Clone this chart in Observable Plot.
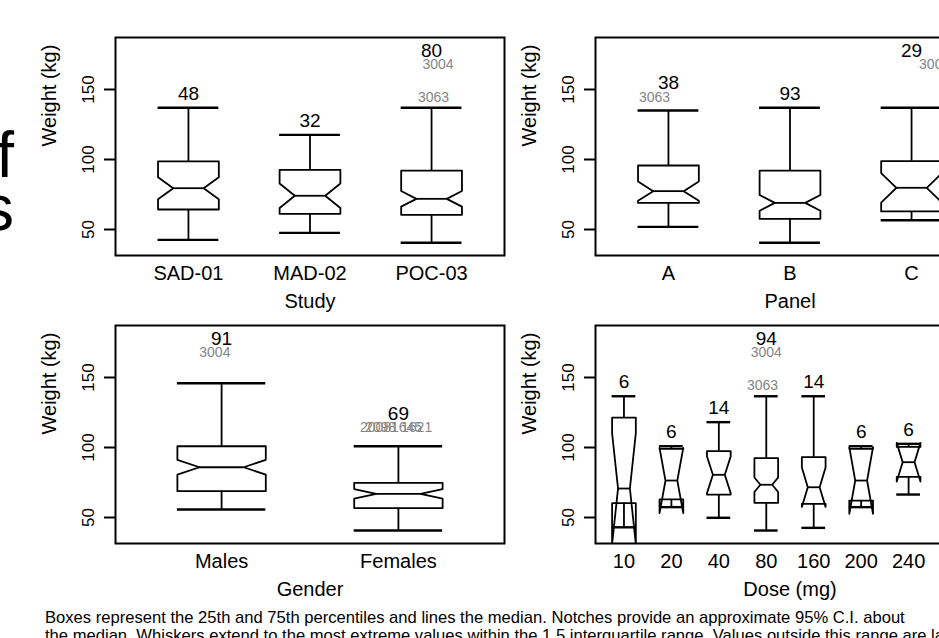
<!DOCTYPE html>
<html><head><meta charset="utf-8">
<script src="https://cdn.jsdelivr.net/npm/d3@7"></script>
<script src="https://cdn.jsdelivr.net/npm/@observablehq/plot@0.6"></script>
<style>
html,body{margin:0;padding:0;width:939px;height:638px;overflow:hidden;background:#fff;font-family:"Liberation Sans",Arial,sans-serif;color:#000;}
.panel{position:absolute;width:520px;height:320px;}
#caption{position:absolute;left:45px;top:609px;font-size:16.6px;line-height:18px;white-space:nowrap;}
#title{position:absolute;left:0;top:0;font-family:"Liberation Sans",Arial,sans-serif;}
</style></head><body>
<svg id="title" width="60" height="300">
<text x="14" y="177" text-anchor="end" font-size="64">Distribution of</text>
<text x="14" y="230" text-anchor="end" font-size="64">Weights</text>
</svg>
<div id="p1" class="panel" style="left:0;top:0"></div>
<div id="p2" class="panel" style="left:480px;top:0"></div>
<div id="p3" class="panel" style="left:0;top:288px"></div>
<div id="p4" class="panel" style="left:480px;top:288px"></div>
<div id="caption">Boxes represent the 25th and 75th percentiles and lines the median. Notches provide an approximate 95% C.I. about<br>the median. Whiskers extend to the most extreme values within the 1.5 interquartile range. Values outside this range are labelled.</div>
<script>
// ---- Study panel ----
const studyCats = ["SAD-01", "MAD-02", "POC-03"];
const studyN    = [48, 32, 80];
const studyLo   = [42.6, 47.6, 40.5];
const studyQ1   = [64.3, 61.2, 60.5];
const studyMed  = [79.5, 74.1, 71.9];
const studyQ3   = [98.6, 92.6, 92.1];
const studyHi   = [137, 117.6, 137];
const studyOutCat = ["POC-03", "POC-03"];
const studyOutId  = ["3063", "3004"];
const studyOutVal = [144.5, 167.6];
const studyOutJit = [0.016, 0.053];

// ---- Panel panel ----
const panelCats = ["A", "B", "C"];
const panelN    = [38, 93, 29];
const panelLo   = [51.9, 40.5, 56.6];
const panelQ1   = [69, 57.6, 62.9];
const panelMed  = [77.4, 69, 79.8];
const panelQ3   = [95.7, 92.1, 98.8];
const panelHi   = [135, 137, 137];
const panelOutCat = ["A", "C"];
const panelOutId  = ["3063", "3004"];
const panelOutVal = [144.5, 167.6];
const panelOutJit = [-0.115, 0.19];

// ---- Gender panel ----
const genderCats = ["Males", "Females"];
const genderN    = [91, 69];
const genderLo   = [55.7, 40.7];
const genderQ1   = [68.8, 56.7];
const genderMed  = [85.9, 66.9];
const genderQ3   = [100.9, 74.8];
const genderHi   = [145.9, 100.9];
const genderOutCat = ["Males", "Females", "Females", "Females", "Females"];
const genderOutId  = ["3004", "2008", "2098", "1645", "1621"];
const genderOutVal = [167.6, 114.3, 114.1, 114.2, 114.1];
const genderOutJit = [-0.038, -0.129, -0.101, 0.046, 0.103];

// ---- Dose panel ----
const doseCats = ["10", "20", "40", "80", "160", "200", "240", "320"];
const doseN    = [6, 6, 14, 94, 14, 6, 6, 6];
const doseLo   = [43, 57.4, 49.8, 40.7, 42.6, 57.4, 66.4, 64];
const doseQ1   = [60.2, 62.9, 66.4, 60.5, 59.8, 62.1, 79, 78];
const doseMed  = [70.7, 76.4, 80.5, 73.4, 71.6, 76.4, 89.5, 88];
const doseQ3   = [121.4, 99, 97.4, 92.4, 93.1, 99, 100.4, 101];
const doseHi   = [136.6, 100.9, 118.1, 136.6, 136.6, 100.9, 102.6, 118];
const doseOutCat = ["80", "80"];
const doseOutId  = ["3063", "3004"];
const doseOutVal = [144.3, 167.6];
const doseOutJit = [-0.078, 0];

const yTicks = [50, 100, 150];
const yLabel = "Weight (kg)";

const HW = 0.25, NF = 0.5;
const FONT = "Liberation Sans, Arial, sans-serif";

function makePanel(c) {
  const k = c.cats.length;
  const boxes = c.cats.map((cat, i) => {
    const b = {x: i + 1, n: c.n[i], lo: c.lo[i], q1: c.q1[i], med: c.med[i], q3: c.q3[i], hi: c.hi[i]};
    const h = 1.58 * (b.q3 - b.q1) / Math.sqrt(b.n);
    b.nl = b.med - h; b.nu = b.med + h;
    return b;
  });
  const xs = [-1, -1, -NF, -1, -1, 1, 1, NF, 1, 1, -1];
  const outline = boxes.flatMap((b, i) => {
    const ys = [b.q1, b.nl, b.med, b.nu, b.q3, b.q3, b.nu, b.med, b.nl, b.q1, b.q1];
    return xs.map((s, j) => ({box: i, x: b.x + s * HW, y: ys[j]}));
  });
  const outs = c.outId.map((id, j) => {
    const ci = c.cats.indexOf(c.outCat[j]);
    return {ci, x: ci + 1 + c.outJit[j], y: c.outVal[j], id};
  });
  const nlab = boxes.map((b, i) => ({
    x: b.x, n: String(b.n),
    y: Math.max(b.hi, ...outs.filter(o => o.ci === i).map(o => o.y))
  }));
  return Plot.plot({
    width: 520, height: 320,
    marginLeft: 115, marginRight: 16, marginTop: 37, marginBottom: 65,
    style: {background: "transparent", fontFamily: FONT, overflow: "visible", maxWidth: "none"},
    x: {domain: [0.4, k + 0.6]},
    y: {domain: [31.43, 187.14]},
    marks: [
      Plot.axisY({ticks: yTicks, tickSize: 11, tickPadding: 11, tickRotate: -90, fontSize: 17, strokeWidth: 2, label: null, tickFormat: d => String(d)}),
      Plot.axisX({ticks: d3.range(1, k + 1), tickSize: 0, tickPadding: 10, fontSize: 20, label: null, tickFormat: i => c.cats[i - 1]}),
      Plot.text([yLabel], {text: d => d, frameAnchor: "left", rotate: -90, dx: -66, fontSize: 20}),
      Plot.text([c.label], {text: d => d, frameAnchor: "bottom", dy: 52, fontSize: 20}),
      Plot.line(outline, {x: "x", y: "y", z: "box", stroke: "black", strokeWidth: 1.8, clip: true}),
      Plot.ruleX(boxes, {x: "x", y1: "q3", y2: "hi", stroke: "black", strokeWidth: 1.8}),
      Plot.ruleX(boxes, {x: "x", y1: "q1", y2: "lo", stroke: "black", strokeWidth: 1.8}),
      Plot.ruleY(boxes, {y: "hi", x1: d => d.x - HW, x2: d => d.x + HW, stroke: "black", strokeWidth: 2.4}),
      Plot.ruleY(boxes, {y: "lo", x1: d => d.x - HW, x2: d => d.x + HW, stroke: "black", strokeWidth: 2.4}),
      Plot.ruleY(boxes, {y: "med", x1: d => d.x - HW * NF, x2: d => d.x + HW * NF, stroke: "black", strokeWidth: 1.8}),
      Plot.text(outs, {x: "x", y: "y", text: "id", fill: "#858585", fontSize: 14}),
      Plot.text(nlab, {x: "x", y: "y", text: "n", dy: -14, fontSize: 19, fill: "black"}),
      Plot.frame({stroke: "black", strokeWidth: 2})
    ]
  });
}

document.getElementById("p1").append(makePanel({cats: studyCats, n: studyN, lo: studyLo, q1: studyQ1, med: studyMed, q3: studyQ3, hi: studyHi, outCat: studyOutCat, outId: studyOutId, outVal: studyOutVal, outJit: studyOutJit, label: "Study"}));
document.getElementById("p2").append(makePanel({cats: panelCats, n: panelN, lo: panelLo, q1: panelQ1, med: panelMed, q3: panelQ3, hi: panelHi, outCat: panelOutCat, outId: panelOutId, outVal: panelOutVal, outJit: panelOutJit, label: "Panel"}));
document.getElementById("p3").append(makePanel({cats: genderCats, n: genderN, lo: genderLo, q1: genderQ1, med: genderMed, q3: genderQ3, hi: genderHi, outCat: genderOutCat, outId: genderOutId, outVal: genderOutVal, outJit: genderOutJit, label: "Gender"}));
document.getElementById("p4").append(makePanel({cats: doseCats, n: doseN, lo: doseLo, q1: doseQ1, med: doseMed, q3: doseQ3, hi: doseHi, outCat: doseOutCat, outId: doseOutId, outVal: doseOutVal, outJit: doseOutJit, label: "Dose (mg)"}));
</script>
</body></html>
